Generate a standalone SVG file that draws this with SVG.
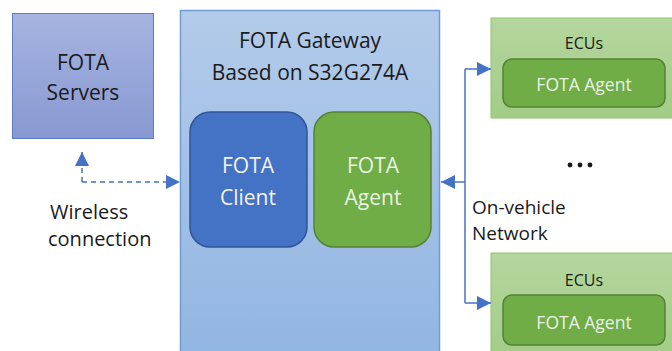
<svg xmlns="http://www.w3.org/2000/svg" width="672" height="351" viewBox="0 0 672 351">
<defs>
<linearGradient id="gSrv" x1="0" y1="0" x2="0" y2="1"><stop offset="0" stop-color="#a6b4e0"/><stop offset="1" stop-color="#8899d2"/></linearGradient>
<linearGradient id="gGw" x1="0" y1="0" x2="0" y2="1"><stop offset="0" stop-color="#b3cbea"/><stop offset="1" stop-color="#92b6e2"/></linearGradient>
<linearGradient id="gEcu" x1="0" y1="0" x2="0" y2="1"><stop offset="0" stop-color="#b5d69e"/><stop offset="1" stop-color="#a2cc86"/></linearGradient>
<marker id="ah" viewBox="0 0 14 14" refX="14" refY="7" markerWidth="14" markerHeight="14" markerUnits="userSpaceOnUse" orient="auto"><path d="M0,0 L14,7 L0,14 Z" fill="#4472c4"/></marker>
</defs>
<style>
text{font-family:"Open Sans","Liberation Sans",sans-serif;}
.dark{fill:#1a1a1a;}
.c{text-anchor:middle;}
.lbl{font-size:19px;fill:#1a1a1a;}
.in{fill:#eaf2e4;}
.agent{fill:#70ad47;stroke:#548235;stroke-width:1.5;}
.ecu{fill:url(#gEcu);stroke:#8fc46e;stroke-width:1;}
.conn{fill:none;stroke:#4472c4;stroke-width:1.5;}
</style>
<rect width="672" height="351" fill="#ffffff"/>
<g id="servers">
<rect x="12.5" y="13.5" width="141" height="125" fill="url(#gSrv)" stroke="#5b7cc8" stroke-width="1"/>
<text class="dark c" x="83" y="70" font-size="21">FOTA</text>
<text class="dark c" x="83" y="100" font-size="21">Servers</text>
</g>
<g id="gateway">
<rect x="180.5" y="10.5" width="259" height="345" fill="url(#gGw)" stroke="#6f9bd6" stroke-width="1.5"/>
<text class="dark c" x="310" y="48" font-size="21">FOTA Gateway</text>
<text class="dark c" x="310" y="80" font-size="21">Based on S32G274A</text>
</g>
<g id="client">
<rect x="190" y="112" width="117" height="135" rx="20" fill="#4472c4" stroke="#2f5597" stroke-width="1.5"/>
<text class="c" x="248" y="173" font-size="21" fill="#f2f2f2">FOTA</text>
<text class="c" x="248" y="205" font-size="21" fill="#f2f2f2">Client</text>
</g>
<g id="gwagent">
<rect class="agent" x="314" y="112" width="117" height="135" rx="20"/>
<text class="c in" x="373" y="173" font-size="21">FOTA</text>
<text class="c in" x="373" y="205" font-size="21">Agent</text>
</g>
<g id="ecu1">
<rect class="ecu" x="491" y="18" width="185" height="100"/>
<text class="dark c" x="584" y="49" font-size="16">ECUs</text>
<rect class="agent" x="503" y="59" width="162" height="48" rx="9"/>
<text class="c in" x="584" y="91" font-size="17.5">FOTA Agent</text>
</g>
<g id="ecu2">
<rect class="ecu" x="491" y="253" width="185" height="110"/>
<text class="dark c" x="584" y="286" font-size="16">ECUs</text>
<rect class="agent" x="503" y="295" width="162" height="50" rx="9"/>
<text class="c in" x="584" y="329" font-size="17.5">FOTA Agent</text>
</g>
<g id="connectors">
<path d="M82,182 V152" class="conn" stroke-dasharray="5,4" marker-end="url(#ah)"/>
<path d="M82,182 H180" class="conn" stroke-dasharray="5,4" marker-end="url(#ah)"/>
<path d="M465,69 V303" class="conn"/>
<path d="M465,69 H491" class="conn" marker-end="url(#ah)"/>
<path d="M465,303 H491" class="conn" marker-end="url(#ah)"/>
<path d="M465,182 H441" class="conn" marker-end="url(#ah)"/>
</g>
<g id="labels">
<text class="lbl" x="50" y="219" font-size="20" style="font-size:20px">Wireless</text>
<text class="lbl" x="48" y="246" style="font-size:20px">connection</text>
<text class="lbl" x="472" y="214">On-vehicle</text>
<text class="lbl" x="472" y="240">Network</text>
<g fill="#1a1a1a"><circle cx="570" cy="165" r="2.4"/><circle cx="580" cy="165" r="2.4"/><circle cx="590" cy="165" r="2.4"/></g>
</g>
</svg>
